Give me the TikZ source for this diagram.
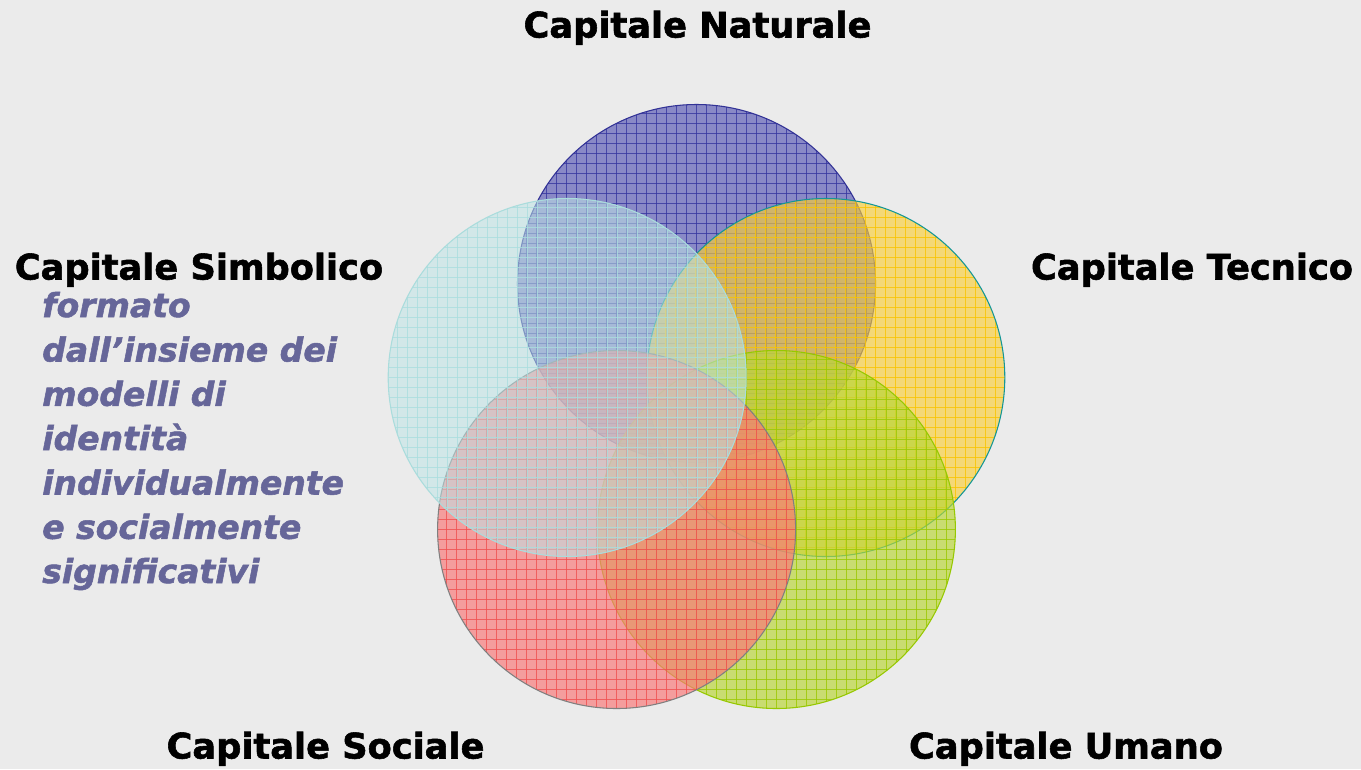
\documentclass[tikz,border=0pt]{standalone}
\usepackage{fontspec}
\setmainfont{DejaVu Sans}
\newfontfamily\headfont{DejaVu Sans Bold}[FakeBold=1.6]
\newfontfamily\descfont{DejaVu Sans Bold Oblique}[FakeBold=1.6]
\definecolor{bg}{RGB}{235,235,235}
\definecolor{natF}{RGB}{100,100,184}
\definecolor{natL}{RGB}{55,55,160}
\definecolor{natB}{RGB}{50,50,150}
\definecolor{tecF}{RGB}{249,206,56}
\definecolor{tecL}{RGB}{250,196,0}
\definecolor{tecB}{RGB}{20,150,150}
\definecolor{umaF}{RGB}{185,214,56}
\definecolor{umaL}{RGB}{155,200,0}
\definecolor{umaB}{RGB}{150,200,0}
\definecolor{socF}{RGB}{249,121,121}
\definecolor{socL}{RGB}{240,80,80}
\definecolor{socB}{RGB}{128,128,128}
\definecolor{simF}{RGB}{190,228,230}
\definecolor{simL}{RGB}{170,222,222}
\definecolor{simB}{RGB}{170,220,220}
\definecolor{purp}{RGB}{102,102,153}
\newcommand\vennc[6]{%
  \begin{scope}
    \clip (#1,#2) circle[radius=179];
    \fill[#3, fill opacity=#6] (#1,#2) circle[radius=179];
    \foreach \k in {-18,...,18} {
      \draw[#4, draw opacity=0.8, line width=0.8pt] ({#1+10*\k},{#2-180}) -- ({#1+10*\k},{#2+180});
      \draw[#4, draw opacity=0.8, line width=0.8pt] ({#1-180},{#2+10*\k}) -- ({#1+180},{#2+10*\k});
    }
  \end{scope}
  \draw[#5, line width=0.8pt] (#1,#2) circle[radius=179];
}
\tikzset{
  head/.style={font=\fontsize{26.4pt}{30pt}\headfont, text=black, inner sep=0pt, anchor=base},
  desc/.style={font=\fontsize{24.75pt}{30pt}\descfont, text=purp, inner sep=0pt, anchor=base west}
}
\begin{document}
\begin{tikzpicture}[x=0.75pt, y=-0.75pt]
  \fill[bg] (0,0) rectangle (1361,769);
  \useasboundingbox (0,0) rectangle (1361,769);

  \vennc{696.5}{283.5}{natF}{natL}{natB}{0.72}
  \vennc{825.8}{377.5}{tecF}{tecL}{tecB}{0.65}
  \vennc{776.4}{529.5}{umaF}{umaL}{umaB}{0.68}
  \vennc{616.6}{529.5}{socF}{socL}{socB}{0.68}
  \vennc{567.2}{377.5}{simF}{simL}{simB}{0.55}

  \node[head] (nat) at (697.5,37.5) {Capitale Naturale};
  \node[head] (tec) at (1192,279.5) {Capitale Tecnico};
  \node[head] (sim) at (199,279.5) {Capitale Simbolico};
  \node[head] (soc) at (325.5,758.5) {Capitale Sociale};
  \node[head] (uma) at (1066,758.5) {Capitale Umano};

  \node[desc] (d1) at (42,317) {formato};
  \node[desc] (d2) at (42,361.5) {dall’insieme dei};
  \node[desc] (d3) at (42,405.8) {modelli di};
  \node[desc] (d4) at (42,450) {identità};
  \node[desc] (d5) at (42,494.5) {individualmente};
  \node[desc] (d6) at (42,538.8) {e socialmente};
  \node[desc] (d7) at (42,583) {significativi};
\end{tikzpicture}
\end{document}
